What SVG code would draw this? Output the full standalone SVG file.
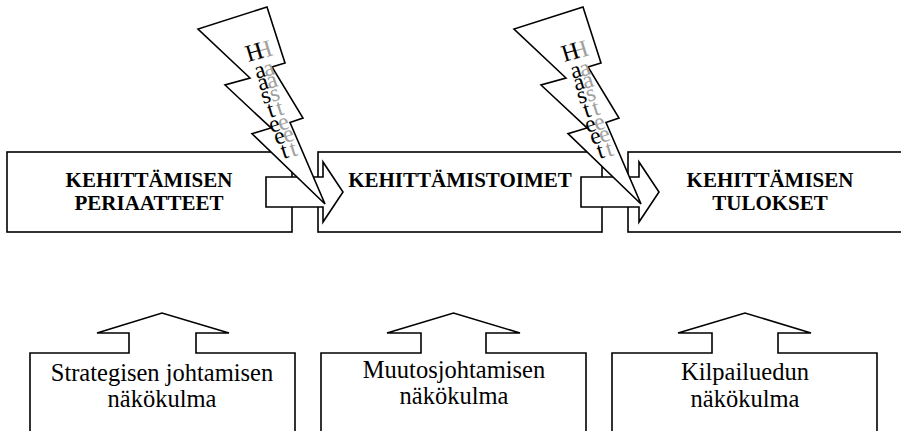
<svg xmlns="http://www.w3.org/2000/svg" width="901" height="431" viewBox="0 0 901 431">
<style>
.ln{fill:#fff;stroke:#000;stroke-width:1.6;stroke-linejoin:miter}
.tb{font-family:"Liberation Serif","Times New Roman",serif;font-weight:bold;font-size:21px;fill:#000;text-anchor:middle}
.tr{font-family:"Liberation Serif","Times New Roman",serif;font-size:24.5px;fill:#000;text-anchor:middle}
.hz{font-family:"Liberation Serif","Times New Roman",serif;font-size:24px;text-anchor:middle}
.hb{fill:#000}
.hg{fill:#a0a0a0}
</style>
<defs>
<polygon id="boltShape" points="267,7 285,63 272,67 303,118 290,122.5 325,204 252,133.7 271,128 225,85 250,78 198,29"/>
</defs>
<rect width="901" height="431" fill="#fff"/>

<g id="box-periaatteet">
<rect class="ln" x="7" y="152" width="285" height="80"/>
<text class="tb" x="149" y="187">KEHITTÄMISEN</text>
<text class="tb" x="149" y="210">PERIAATTEET</text>
</g>
<g id="box-toimet">
<rect class="ln" x="318" y="152" width="284" height="80"/>
<text class="tb" x="460" y="187">KEHITTÄMISTOIMET</text>
</g>
<g id="box-tulokset">
<rect class="ln" x="628" y="152" width="290" height="80"/>
<text class="tb" x="770" y="187">KEHITTÄMISEN</text>
<text class="tb" x="770" y="210">TULOKSET</text>
</g>

<g id="connectors">
<polygon class="ln" points="266,177 323,177 323,162 343,192 323,222 323,207 266,207"/>
<polygon class="ln" points="581,177 639,177 639,162 659,192 639,222 639,207 581,207"/>
</g>

<g id="haasteet-1">
<use href="#boltShape" class="ln"/>
<text class="hz hg" x="266 271 274 277 282 285.5 290.5 295.5" y="60 77 89 102 116 131 143 157" rotate="-17">Haasteet</text>
<text class="hz hb" x="257 262 265 268 273 276.5 281.5 286.5" y="62 79 91 104 118 133 145 159" rotate="-17">Haasteet</text>
</g>
<g id="haasteet-2" transform="translate(316,0)">
<use href="#boltShape" class="ln"/>
<text class="hz hg" x="266 271 274 277 282 285.5 290.5 295.5" y="60 77 89 102 116 131 143 157" rotate="-17">Haasteet</text>
<text class="hz hb" x="257 262 265 268 273 276.5 281.5 286.5" y="62 79 91 104 118 133 145 159" rotate="-17">Haasteet</text>
</g>

<g id="nakokulma-strateginen">
<polygon class="ln" points="30,440 30,353 129,353 129,333 97,333 162,313 229,333 196,333 196,353 295,353 295,440"/>
<text class="tr" x="162" y="381">Strategisen johtamisen</text>
<text class="tr" x="162" y="407">näkökulma</text>
</g>
<g id="nakokulma-muutos">
<polygon class="ln" points="321,440 321,353 421,353 421,333 387,333 453.5,313 520,333 486,333 486,353 586,353 586,440"/>
<text class="tr" x="454" y="378">Muutosjohtamisen</text>
<text class="tr" x="454" y="404">näkökulma</text>
</g>
<g id="nakokulma-kilpailu">
<polygon class="ln" points="612,440 612,353 712,353 712,333 678,333 745,313 811,333 778,333 778,353 877,353 877,440"/>
<text class="tr" x="745" y="380">Kilpailuedun</text>
<text class="tr" x="745" y="407">näkökulma</text>
</g>
</svg>
